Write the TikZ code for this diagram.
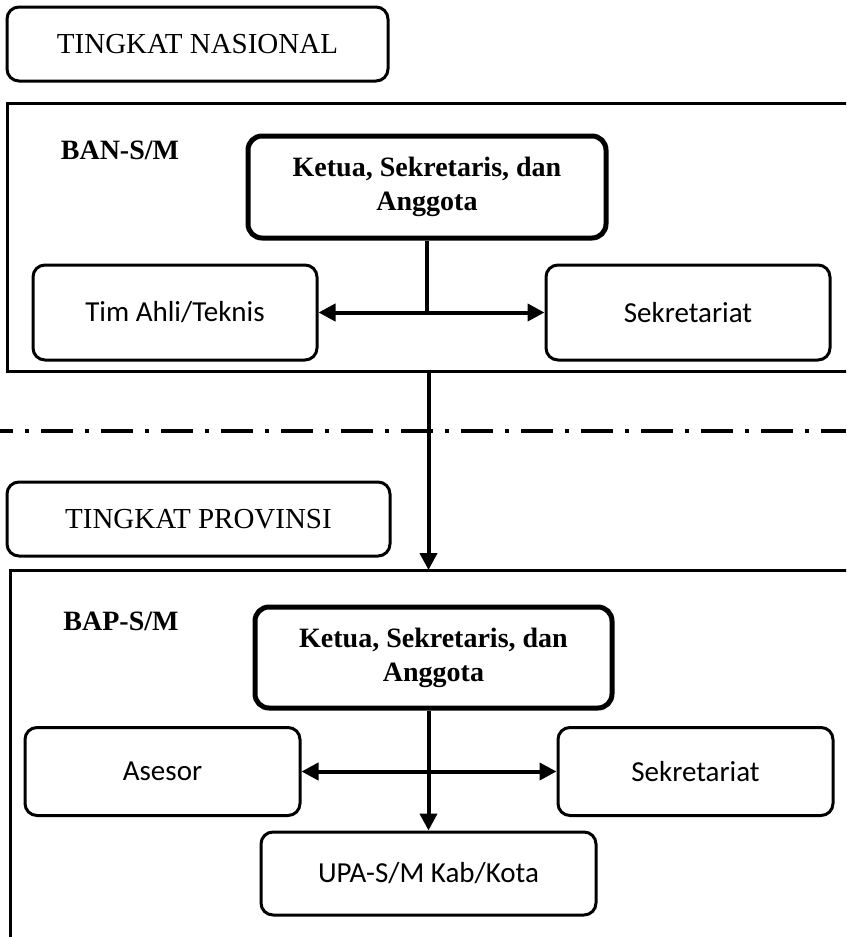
\documentclass[tikz,border=0pt]{standalone}
\usepackage{fontspec}
\setmainfont{Liberation Serif}
\newfontfamily\calibri{Carlito}
\usetikzlibrary{arrows.meta}
\tikzset{
    niveau/.style={draw,line width=1.5pt,rounded corners=6pt,inner sep=0pt,font=\fontsize{14.5}{17}\selectfont},
    bureau/.style={draw,line width=2.5pt,rounded corners=7pt,inner sep=0pt,align=center,font=\bfseries\fontsize{14}{17}\selectfont},
    unite/.style={draw,line width=1.5pt,rounded corners=6pt,inner sep=0pt,font=\calibri\fontsize{14.5}{17}\selectfont},
    organe/.style={inner sep=0pt,font=\bfseries\fontsize{14}{17}\selectfont},
    cadre/.style={line width=1.5pt},
    lien/.style={line width=2pt},
    fleche/.style={line width=2pt,-{Triangle[length=8.5pt,width=8.5pt]}},
    doublefleche/.style={line width=2pt,{Triangle[length=8.5pt,width=8.5pt]}-{Triangle[length=8.5pt,width=8.5pt]}},
  }
\begin{document}
\begin{tikzpicture}[x=0.5pt,y=-0.5pt]
                                  %cadre de l'image
                                  \clip (0,0) rectangle (846,937);
                                  %niveau national
                                  \node[niveau,minimum width=190.5pt,minimum height=37pt] (nas) at (197.5,44) {TINGKAT NASIONAL};
                                  \draw[cadre] (7,103) rectangle (880,371);
                                  \node[organe] (bans) at (120,150) {BAN-S/M};
                                  \node[bureau,minimum width=179pt,minimum height=51pt] (ketua1) at (427,187) {Ketua, Sekretaris, dan\\Anggota};
                                  \node[unite,minimum width=142pt,minimum height=47.5pt] (tim) at (175,312.5) {Tim Ahli/Teknis};
                                  \node[unite,minimum width=142pt,minimum height=47.5pt] (sek1) at (688,312.5) {Sekretariat};
                                  \draw[lien] (ketua1.south) -- (ketua1.south |- tim.east);
                                  \draw[doublefleche] (tim.east) -- (sek1.west);
                                  %passage au niveau provincial
                                  \coordinate (bas1) at (428.5,371);
                                  \coordinate (haut2) at (428.5,570);
                                  \draw[line width=2pt,dash pattern=on 16pt off 6pt on 2pt off 6pt,dash phase=9.5pt] (0,431) -- (846,431);
                                  \draw[fleche] (bas1) -- (haut2);
                                  %niveau provincial
                                  \node[niveau,minimum width=191.5pt,minimum height=37pt] (prov) at (198.5,519) {TINGKAT PROVINSI};
                                  \draw[cadre] (10,570) rectangle (880,960);
                                  \node[organe] (baps) at (121,621) {BAP-S/M};
                                  \node[bureau,minimum width=178.5pt,minimum height=50.5pt] (ketua2) at (433.5,657.5) {Ketua, Sekretaris, dan\\Anggota};
                                  \node[unite,minimum width=137.5pt,minimum height=44pt] (ases) at (162.5,771.5) {Asesor};
                                  \node[unite,minimum width=137.5pt,minimum height=44pt] (sek2) at (695.5,771.5) {Sekretariat};
                                  \node[unite,minimum width=167.5pt,minimum height=41.5pt] (upa) at (428.5,873.5) {UPA-S/M Kab/Kota};
                                  \draw[doublefleche] (ases.east) -- (sek2.west);
                                  \draw[fleche] (ketua2.south -| upa.north) -- (upa.north);
\end{tikzpicture}
\end{document}
